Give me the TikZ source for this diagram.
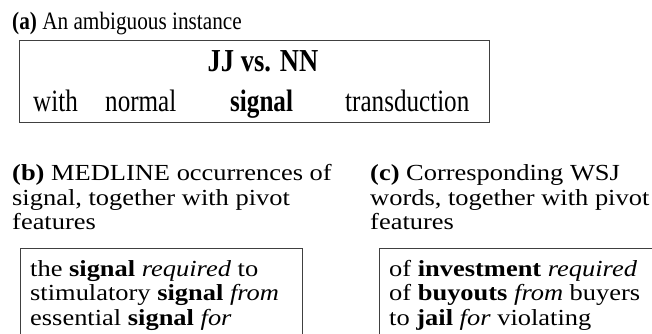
\documentclass[tikz,border=0pt]{standalone}
\usepackage{fontspec}
% body text of panels (b) and (c): slightly widened Times-metric serif
\setmainfont[FakeStretch=1.15]{Liberation Serif}
% narrower cuts for panel (a)
\newfontfamily\capfont[FakeStretch=0.85]{Liberation Serif}
\newfontfamily\rowfont[FakeStretch=0.81]{Liberation Serif}
\newfontfamily\tagfont[FakeStretch=0.83]{Liberation Serif}
\begin{document}
\begin{tikzpicture}[x=1pt,y=-1pt,
  txt/.style={anchor=base west, inner sep=0pt, font=\fontsize{23}{25}\selectfont},
  capa/.style={anchor=base west, inner sep=0pt, font=\capfont\fontsize{25}{25}\selectfont},
  row/.style={anchor=base west, inner sep=0pt, font=\rowfont\fontsize{31}{31}\selectfont},
  head/.style={anchor=base, inner sep=0pt, font=\tagfont\fontsize{32}{32}\selectfont\bfseries},
  panel/.style={draw=black!75, line width=1.3pt, inner sep=0pt, anchor=north west}]
\useasboundingbox (0,0) rectangle (652,334);
\clip (0,0) rectangle (652,334);

% (a) the ambiguous instance
\node[capa] (capa) at (12,30) {\textbf{(a)} An ambiguous instance};
\node[panel, minimum width=470pt, minimum height=82pt] (boxa) at (19,40) {};
\node[head] (tag) at (263,72) {JJ vs. NN};
\node[row] (w1) at (33,111) {with};
\node[row] (w2) at (105,111) {normal};
\node[row] (w3) at (230,111) {\textbf{signal}};
\node[row] (w4) at (345,111) {transduction};

% (b) MEDLINE occurrences
\node[txt] (capb1) at (12,180) {\textbf{(b)} MEDLINE occurrences of};
\node[txt] (capb2) at (12,205) {signal, together with pivot};
\node[txt] (capb3) at (12,229) {features};
\node[panel, minimum width=282pt, minimum height=120pt] (boxb) at (20,248) {};
\node[txt] (b1) at (30,276) {the \textbf{signal} \textit{required} to};
\node[txt] (b2) at (30,300) {stimulatory \textbf{signal} \textit{from}};
\node[txt] (b3) at (30,325) {essential \textbf{signal} \textit{for}};

% (c) corresponding WSJ words
\node[txt] (capc1) at (370,180) {\textbf{(c)} Corresponding WSJ};
\node[txt] (capc2) at (370,205) {words, together with pivot};
\node[txt] (capc3) at (370,229) {features};
\node[panel, minimum width=300pt, minimum height=120pt] (boxc) at (379,248) {};
\node[txt] (c1) at (389,276) {of \textbf{investment} \textit{required}};
\node[txt] (c2) at (389,300) {of \textbf{buyouts} \textit{from} buyers};
\node[txt] (c3) at (389,325) {to \textbf{jail} \textit{for} violating};
\end{tikzpicture}
\end{document}
